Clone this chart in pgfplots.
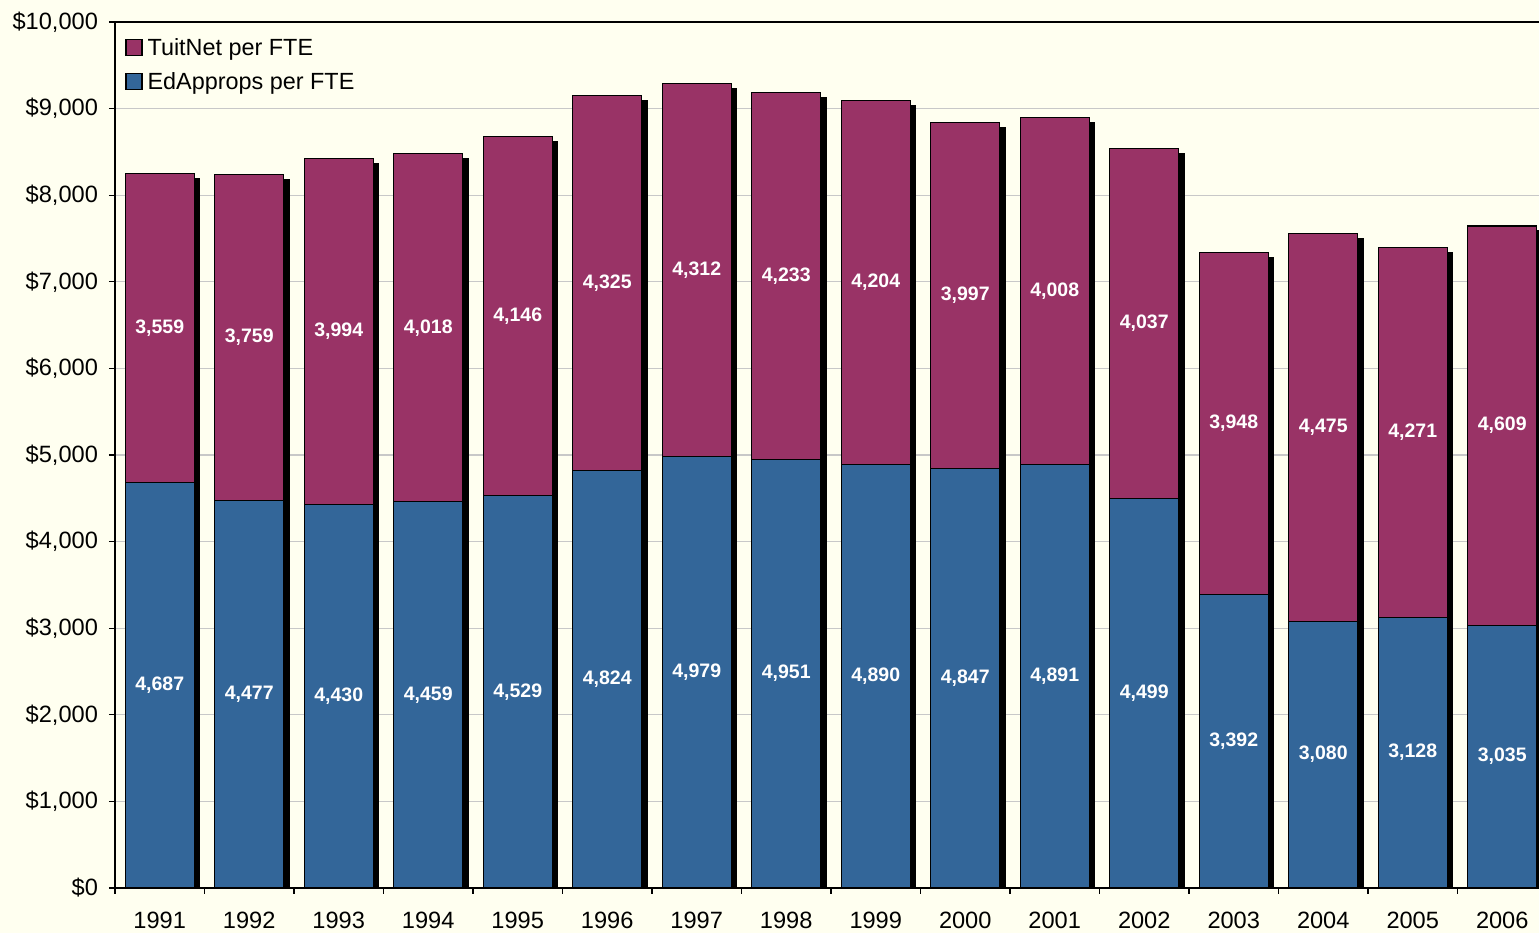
\documentclass[border=0pt]{standalone}
\usepackage{fontspec}
\setmainfont{Liberation Sans}
\usepackage{pgfplots}
\usepackage{pgfplotstable}
\pgfplotsset{compat=1.18}
\definecolor{bgc}{HTML}{FFFFF0}
\definecolor{edblue}{HTML}{336699}
\definecolor{tupurple}{HTML}{993366}
\definecolor{gridc}{HTML}{C8C8C8}
\pgfplotstableread{
x year ed tu
0 1991 4687 3559
1 1992 4477 3759
2 1993 4430 3994
3 1994 4459 4018
4 1995 4529 4146
5 1996 4824 4325
6 1997 4979 4312
7 1998 4951 4233
8 1999 4890 4204
9 2000 4847 3997
10 2001 4891 4008
11 2002 4499 4037
12 2003 3392 3948
13 2004 3080 4475
14 2005 3128 4271
15 2006 3035 4609
}\datatable
\begin{document}
\begin{tikzpicture}
\fill[bgc] (-57.5pt,-22.5pt) rectangle (712pt,444pt);
\begin{axis}[
  at={(0,0)}, anchor=south west,
  scale only axis, width=716pt, height=433pt,
  xmin=-0.5, xmax=15.5, ymin=0, ymax=10000,
  ybar stacked, bar width=34.5pt,
  axis background/.style={fill=bgc},
  axis line style={black, line width=0.6pt},
  xtick={0,...,15},
  xticklabels={1991,1992,1993,1994,1995,1996,1997,1998,1999,2000,2001,2002,2003,2004,2005,2006},
  major x tick style={draw=none},
  minor xtick={-0.5,0.5,...,15.5},
  minor x tick style={black, line width=0.6pt},
  minor tick length=3pt, major tick length=3pt,
  tick align=outside,
  xtick pos=bottom, ytick pos=left,
  ytick={0,1000,...,10000},
  ytick style={black, line width=0.6pt},
  yticklabel={\$\pgfmathprintnumber[assume math mode=true,1000 sep={,},fixed]{\tick}},
  scaled y ticks=false,
  ymajorgrids, major grid style={gridc, line width=0.6pt},
  tick label style={font=\fontsize{11.8}{14}\selectfont, text=black},
  xticklabel style={yshift=-5.5pt},
  yticklabel style={xshift=-2pt},
  legend style={at={(0,1)}, anchor=north west, xshift=5pt, yshift=-6pt,
    draw=none, fill=none, font=\fontsize{11.7}{14}\selectfont,
    row sep=3pt, inner sep=0pt, nodes={inner xsep=2.5pt}},
  legend cell align=left,
  legend image code/.code={\draw[#1, draw=black, line width=0.6pt] (0pt,-3.5pt) rectangle (8pt,4.5pt);},
  nodes near coords,
  point meta=explicit,
  every node near coord/.append style={font=\bfseries\fontsize{9.75}{11}\selectfont, text=white, anchor=center,
     /pgf/number format/assume math mode=true, /pgf/number format/1000 sep={,}},
]
\addplot+[fill=edblue, draw=black, line width=0.6pt, forget plot,
  preaction={fill=black, draw=black, transform canvas={xshift=2.75pt,yshift=-2.5pt}}]
  table[x=x, y=ed, meta=ed] {\datatable};
\addplot+[fill=tupurple, draw=black, line width=0.6pt, forget plot,
  preaction={fill=black, draw=black, transform canvas={xshift=2.75pt,yshift=-2.5pt}}]
  table[x=x, y=tu, meta=tu] {\datatable};
\addlegendimage{fill=tupurple}
\addlegendentry{TuitNet per FTE}
\addlegendimage{fill=edblue}
\addlegendentry{EdApprops per FTE}
\end{axis}
\pgfresetboundingbox
\path (-57.5pt,-22.5pt) rectangle (712pt,444pt);
\end{tikzpicture}
\end{document}
